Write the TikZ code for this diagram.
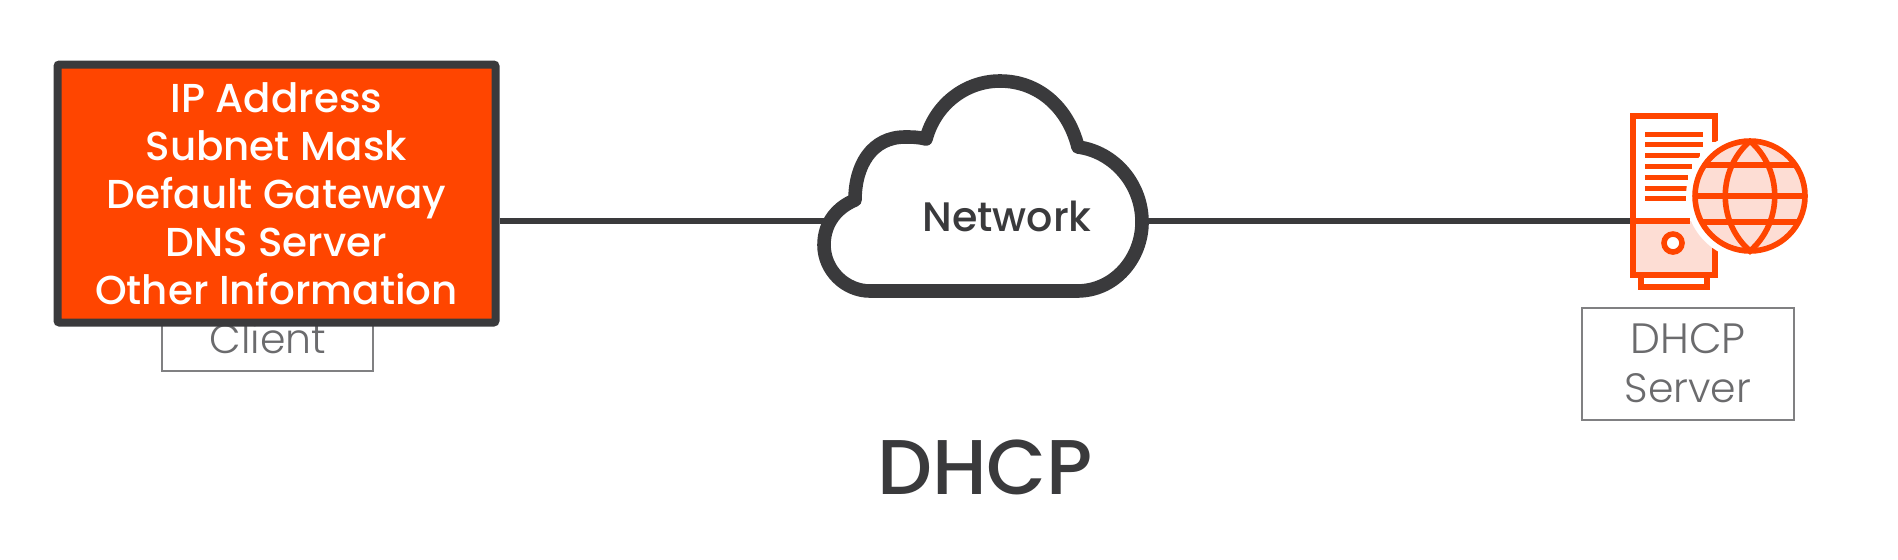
\documentclass[tikz,border=0pt]{standalone}
\usepackage{fontspec}
\setmainfont{Poppins}
\newfontfamily\lightf{Poppins Light}
\newfontfamily\medf{Poppins Medium}
\definecolor{dark}{HTML}{3A3A3C}
\definecolor{ora}{HTML}{FF4500}
\definecolor{pinkf}{HTML}{FDDDD4}
\definecolor{graytxt}{HTML}{6B6B6D}
\definecolor{grayline}{HTML}{808082}
\tikzset{
  wire/.style={draw=dark,line width=3pt},
  infobox/.style={draw=dark,fill=ora,line width=4pt,rounded corners=1pt,minimum width=219pt,minimum height=129pt,inner sep=0pt,align=center,text=white,font=\medf\fontsize{20.2}{24}\selectfont},
  labelbox/.style={draw=grayline,line width=0.7pt,fill=white,inner sep=0pt},
  labeltxt/.style={anchor=base,text=graytxt,inner sep=0pt,font=\lightf\fontsize{20.5}{24}\selectfont},
  ico/.style={draw=ora,line width=2.8pt},
  icoline/.style={draw=ora,line width=2.5pt},
}
\begin{document}
\begin{tikzpicture}[x=0.5pt,y=-0.5pt,line join=miter]
\useasboundingbox[fill=white] (0,0) rectangle (1898,559);
% client label box
\node[labelbox,minimum width=105.5pt,minimum height=45pt] (clientbox) at (267.5,326) {};
\node[labeltxt] (clienttxt) at (268,353) {Client};
% info box
\node[infobox] (info) at (276.5,193.5) {IP Address\\Subnet Mask\\Default Gateway\\DNS Server\\Other Information};
% anchors
\coordinate (cloudW) at (830,221);
\coordinate (cloudE) at (1142,221);
\coordinate (towerW) at (1633,221);
\draw[wire] (info.east |- cloudW) -- (cloudW);
\draw[wire] (cloudE) -- (towerW);
% cloud
\draw[draw=dark,fill=white,line width=6.8pt,line join=round]
 (870,291) -- (1077,291)
 .. controls (1115,291) and (1142,258) .. (1142,222)
 .. controls (1142,185) and (1115,152) .. (1078,147)
 .. controls (1068,107) and (1038,81) .. (1000,81)
 .. controls (965,81) and (935,105) .. (926,139)
 .. controls (918,137) and (912,137) .. (905,137)
 .. controls (872,137) and (855,165) .. (855,200)
 .. controls (838,207) and (824,222) .. (824,245)
 .. controls (824,270) and (845,291) .. (870,291) -- cycle;
\node[anchor=base,text=dark,font=\medf\fontsize{20.6}{24}\selectfont,inner sep=0pt] (net) at (1007,231) {Network};
% server icon
\fill[pinkf] (1633,221) rectangle (1715,275);
\draw[ico] (1715,142) -- (1715,116) -- (1633,116) -- (1633,275) -- (1715,275) -- (1715,248);
\draw[ico] (1641,275) -- (1641,287) -- (1707,287) -- (1707,275);
\draw[ico] (1633,221) -- (1690,221);
\draw[ico,fill=white] (1673,243) circle (9);
\foreach \yy/\xx in {134/1703,144/1703,155/1700,166/1692,177/1688,188/1687,198/1687}
  \draw[icoline] (1645,\yy) -- (\xx,\yy);
\fill[white] (1750,196) circle (64);
\draw[ico,fill=pinkf] (1750,196) circle (55);
\draw[ico] (1750,141) .. controls (1717,170) and (1717,222) .. (1750,251)
           .. controls (1783,222) and (1783,170) .. (1750,141);
\draw[ico] (1705,165) -- (1795,165);
\draw[ico] (1695,196) -- (1805,196);
\draw[ico] (1702,222) -- (1798,222);
% server label
\node[labelbox,minimum width=106pt,minimum height=56pt] (serverbox) at (1688,364) {};
\node[labeltxt,font=\lightf\fontsize{21.2}{24}\selectfont] (dhcpl) at (1688,353) {DHCP};
\node[labeltxt] (serverl) at (1688,402) {Server};
% title
\node[anchor=base,text=dark,font=\medf\fontsize{38.8}{40}\selectfont,inner sep=0pt] (title) at (985,494) {DHCP};
\end{tikzpicture}
\end{document}
